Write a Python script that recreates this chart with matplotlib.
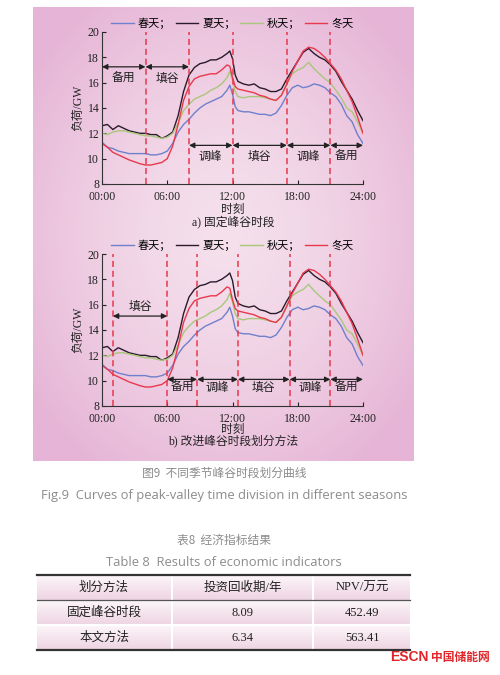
import numpy as np
import matplotlib.pyplot as plt
from matplotlib.lines import Line2D

plt.rcParams['font.family'] = ['Liberation Serif', 'Noto Sans CJK SC']

# time axis (hours), half-hourly with extra points around the noon peak
hours = [i * 0.5 for i in range(24)] + [11.75, 12.0, 12.25] + [12.5 + i * 0.5 for i in range(24)]

spring = [11.3, 10.9, 10.8, 10.6, 10.5, 10.4, 10.4, 10.4, 10.4, 10.3, 10.3, 10.4,
          10.6, 11.2, 12.1, 12.7, 13.1, 13.6, 14.0, 14.3, 14.5, 14.7, 14.9, 15.4,
          15.8, 15.1, 14.1,
          13.8, 13.7, 13.7, 13.6, 13.5, 13.5, 13.4, 13.6, 14.2, 15.0, 15.6, 15.8,
          15.6, 15.7, 15.9, 15.8, 15.6, 15.2, 14.9, 14.3, 13.4, 12.9, 11.9, 11.2]
summer = [12.6, 12.7, 12.3, 12.6, 12.4, 12.2, 12.1, 12.0, 12.0, 11.9, 11.9, 11.6,
          11.8, 12.1, 13.4, 15.3, 16.6, 17.2, 17.5, 17.6, 17.8, 17.8, 18.0, 18.3,
          18.5, 17.9, 16.6,
          16.1, 15.9, 15.8, 15.9, 15.6, 15.5, 15.3, 15.3, 15.5, 16.3, 17.0, 17.7,
          18.4, 18.7, 18.3, 18.0, 17.8, 17.4, 16.9, 16.1, 15.4, 14.7, 13.8, 13.0]
autumn = [12.0, 11.9, 12.1, 12.2, 12.2, 12.1, 12.0, 11.9, 11.8, 11.8, 11.7, 11.6,
          11.7, 12.0, 12.8, 13.8, 14.3, 14.7, 14.9, 15.1, 15.4, 15.6, 15.9, 16.4,
          16.9, 16.2, 15.3,
          14.9, 14.8, 14.9, 14.9, 14.9, 14.8, 14.7, 14.6, 15.0, 15.9, 16.7, 17.0,
          17.2, 17.6, 17.1, 16.7, 16.3, 16.0, 15.4, 14.8, 14.0, 13.7, 12.9, 12.0]
winter = [11.2, 10.9, 10.5, 10.3, 10.1, 9.9, 9.75, 9.6, 9.5, 9.5, 9.6, 9.7,
          10.0, 11.0, 12.7, 14.6, 15.7, 16.3, 16.5, 16.6, 16.7, 16.7, 17.0, 17.4,
          17.3, 16.4, 15.7,
          15.5, 15.4, 15.3, 15.2, 15.0, 14.9, 14.7, 14.6, 15.0, 15.9, 16.9, 17.7,
          18.5, 18.8, 18.7, 18.4, 18.0, 17.5, 17.0, 16.3, 15.4, 14.5, 13.3, 12.0]

season_names = ['春天；', '夏天；', '秋天；', '冬天']
season_colors = ['#6f80cc', '#2a1a2c', '#a9c77a', '#e8384c']

xtick_pos = [0, 6, 12, 18, 24]
xtick_labels = ['00:00', '06:00', '12:00', '18:00', '24:00']

# a) fixed peak-valley division
fixed_bounds = [4, 8, 12, 17, 21]
fixed_top = [(0, 4, '备用'), (4, 8, '填谷')]
fixed_bottom = [(8, 12, '调峰'), (12, 17, '填谷'), (17, 21, '调峰'), (21, 24, '备用')]
# b) improved division
improved_bounds = [1, 6, 8.75, 12.5, 17.25, 21]
improved_top = [(1, 6, '填谷')]
improved_bottom = [(6, 8.75, '备用'), (8.75, 12.5, '调峰'), (12.5, 17.25, '填谷'),
                   (17.25, 21, '调峰'), (21, 24, '备用')]

table_header = ['划分方法', '投资回收期/年', 'NPV/万元']
table_rows = [['固定峰谷时段', '8.09', '452.49'], ['本文方法', '6.34', '563.41']]

W, H = 500, 675
fig = plt.figure(figsize=(5, 6.75), dpi=100)
fig.patch.set_facecolor('white')

# overlay axes in pixel coordinates for background, captions and table
ov = fig.add_axes([0, 0, 1, 1], zorder=0)
ov.set_xlim(0, W)
ov.set_ylim(H, 0)
ov.axis('off')

# pink panel with soft radial gradient
gx, gy = np.meshgrid(np.linspace(-1, 1, 200), np.linspace(-1, 1, 240))
r = np.clip(np.sqrt(gx ** 2 + gy ** 2) / 1.25, 0, 1) ** 1.5
c_in = np.array([245, 224, 236]) / 255
c_out = np.array([230, 180, 214]) / 255
grad = c_in[None, None, :] * (1 - r[..., None]) + c_out[None, None, :] * r[..., None]
ov.imshow(grad, extent=(33, 414, 461, 7), aspect='auto', interpolation='bilinear')

# captions
cap_grey = '#8c8c8c'
ov.text(224, 473, '图9  不同季节峰谷时段划分曲线', ha='center', va='center',
        fontsize=8.5, color=cap_grey, family=['Noto Sans CJK SC'])
ov.text(224, 495, 'Fig.9  Curves of peak-valley time division in different seasons',
        ha='center', va='center', fontsize=9.4, color=cap_grey, family=['Open Sans'])
ov.text(224, 540, '表8  经济指标结果', ha='center', va='center',
        fontsize=8.5, color=cap_grey, family=['Noto Sans CJK SC'])
ov.text(224, 562, 'Table 8  Results of economic indicators', ha='center', va='center',
        fontsize=9.4, color=cap_grey, family=['Open Sans'])

# table
row_edges = [575, 600, 625, 650]
col_edges = [37, 172, 313, 410]
row_grad = np.linspace(0, 1, 50)[:, None, None]
rg = np.array([252, 246, 249]) / 255 * (1 - row_grad) + np.array([238, 212, 226]) / 255 * row_grad
for i in range(3):
    ov.imshow(rg, extent=(col_edges[0], col_edges[-1], row_edges[i + 1], row_edges[i]),
              aspect='auto')
for cx in col_edges[1:-1]:
    ov.plot([cx, cx], [row_edges[0], row_edges[-1]], color='white', lw=1.5)
ov.plot([37, 410], [625, 625], color='white', lw=1.5)
ov.plot([37, 410], [575, 575], color='#333333', lw=1.6)
ov.plot([37, 410], [600, 600], color='#555555', lw=0.9)
ov.plot([37, 410], [650, 650], color='#333333', lw=1.6)
col_centers = [104, 243, 362]
for j, t in enumerate(table_header):
    ov.text(col_centers[j], 588, t, ha='center', va='center', fontsize=9, color='#222222')
for i, row in enumerate(table_rows):
    for j, t in enumerate(row):
        ov.text(col_centers[j], 613 + 25 * i, t, ha='center', va='center',
                fontsize=9, color='#222222')

# logo
ov.text(390, 657, 'ESCN', ha='left', va='center', fontsize=10, color='#e0262a',
        fontweight='bold', family=['Liberation Sans'])
ov.text(431, 657, '中国储能网', ha='left', va='center', fontsize=8.5, color='#e0262a',
        fontweight='bold', family=['Noto Sans CJK SC'])

series = [spring, summer, autumn, winter]


def draw_panel(top_px, bounds, top_spans, top_y, top_text_y, bot_spans, bot_y, bot_text_y,
               xlabel_px, title_px, title):
    ax = fig.add_axes([102 / W, 1 - (top_px + 152) / H, 261 / W, 152 / H], zorder=1)
    ax.set_facecolor('none')
    for vals, col in zip(series, season_colors):
        ax.plot(hours, vals, color=col, lw=1.0)
    for b in bounds:
        ax.axvline(b, color='#e8384c', lw=1.1, ls=(0, (4, 2.5)))
    for spans, y, ty in [(top_spans, top_y, top_text_y), (bot_spans, bot_y, bot_text_y)]:
        for x0, x1, lab in spans:
            ax.annotate('', xy=(x1, y), xytext=(x0, y),
                        arrowprops=dict(arrowstyle='<|-|>', color='#222222', lw=0.9,
                                        shrinkA=0, shrinkB=0, mutation_scale=8))
            ax.text((x0 + x1) / 2, ty, lab, ha='center', va='center', fontsize=8.5,
                    color='#222222')
    ax.set_xlim(0, 24)
    ax.set_ylim(8, 20)
    ax.set_xticks(xtick_pos)
    ax.set_xticklabels(xtick_labels)
    ax.set_yticks(range(8, 21, 2))
    ax.tick_params(direction='in', length=3, width=0.8, labelsize=8.5, colors='#222222', pad=2)
    ax.tick_params(axis='x', pad=5)
    for s in ['top', 'right']:
        ax.spines[s].set_visible(False)
    for s in ['left', 'bottom']:
        ax.spines[s].set_color('#333333')
        ax.spines[s].set_linewidth(0.8)
    ax.set_ylabel('负荷/GW', fontsize=8.5, labelpad=2, color='#222222')
    handles = [Line2D([], [], color=c, lw=1.0) for c in season_colors]
    ax.legend(handles, season_names, loc='center', bbox_to_anchor=(0.5, 1.06), ncol=4,
              frameon=False, fontsize=8, handlelength=2.0, handletextpad=0.4,
              columnspacing=0.4, borderaxespad=0)
    ov.text(233, xlabel_px, '时刻', ha='center', va='center', fontsize=8.5, color='#222222')
    ov.text(233, title_px, title, ha='center', va='center', fontsize=8.5, color='#222222')
    return ax


draw_panel(32, fixed_bounds, fixed_top, 17.25, 16.3, fixed_bottom, 11.05, 10.15,
           210, 222, 'a) 固定峰谷时段')
draw_panel(254, improved_bounds, improved_top, 15.1, 15.85, improved_bottom, 10.1, 9.4,
           430, 441, 'b) 改进峰谷时段划分方法')

fig.savefig('out.png', dpi=100)
